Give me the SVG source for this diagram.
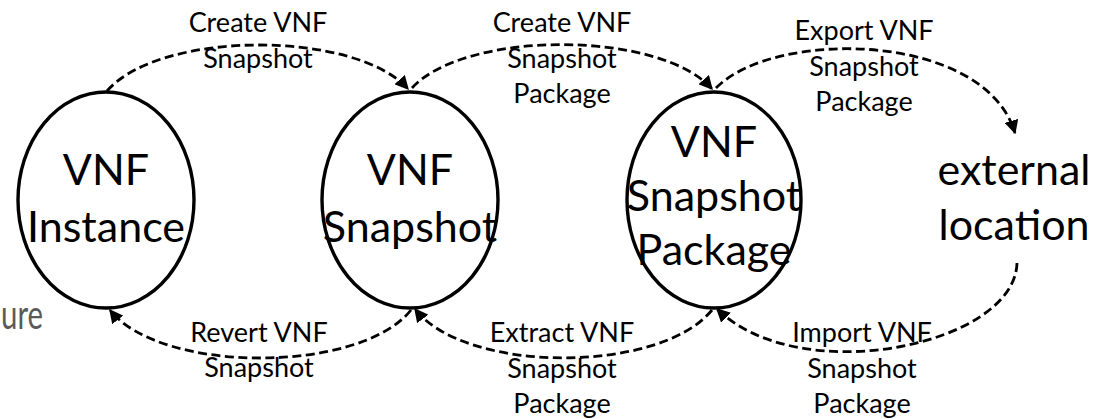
<svg xmlns="http://www.w3.org/2000/svg" width="1096" height="419" viewBox="0 0 1096 419">
<style>
.node{fill:none;stroke:#000;stroke-width:3.4}
.nt{font-family:Lato,"Open Sans","Liberation Sans",sans-serif;font-size:43px;fill:#000;text-anchor:middle}
.lb{font-family:Lato,"Open Sans","Liberation Sans",sans-serif;font-size:27px;fill:#000;text-anchor:middle}
.edge{fill:none;stroke:#000;stroke-width:2.8;stroke-dasharray:9 4.5;marker-end:url(#ah)}
</style>
<defs>
<marker id="ah" viewBox="0 0 10 10" refX="9" refY="5" markerWidth="5" markerHeight="5" orient="auto" markerUnits="strokeWidth">
<path d="M0,0 L10,5 L0,10 z" fill="#000"/>
</marker>
</defs>
<rect width="1096" height="419" fill="#fff"/>
<text x="1" y="329" font-family="Lato,'Open Sans','Liberation Sans',sans-serif" font-size="40" fill="#5a5a5a" textLength="42" lengthAdjust="spacingAndGlyphs">ure</text>
<g id="connectors">
<path class="edge" d="M107,91 C160,30 355,30 408,89"/>
<path class="edge" d="M412,88 C465,30 660,30 712,89"/>
<path class="edge" d="M716,88 C775,28 985,32 1015,133"/>
<path class="edge" d="M411,310 C360,374 160,374 110,310"/>
<path class="edge" d="M712,310 C660,374 465,374 415,309"/>
<path class="edge" d="M1017,263 C1015,345 800,390 717,309"/>
</g>
<g id="vnf-instance">
<ellipse class="node" cx="106" cy="200" rx="88" ry="108"/>
<text class="nt" x="106" y="185">VNF</text>
<text class="nt" x="106" y="242">Instance</text>
</g>
<g id="vnf-snapshot">
<ellipse class="node" cx="410" cy="200" rx="88" ry="108"/>
<text class="nt" x="410" y="185">VNF</text>
<text class="nt" x="410" y="242">Snapshot</text>
</g>
<g id="vnf-snapshot-package">
<ellipse class="node" cx="714" cy="200" rx="87" ry="108"/>
<text class="nt" x="714" y="157">VNF</text>
<text class="nt" x="714" y="211">Snapshot</text>
<text class="nt" x="714" y="265">Package</text>
</g>
<g id="external-location">
<text class="nt" x="1014" y="185">external</text>
<text class="nt" x="1014" y="240">location</text>
</g>
<g id="labels">
<text class="lb" x="258" y="32">Create VNF</text>
<text class="lb" x="258" y="68">Snapshot</text>
<text class="lb" x="562" y="32">Create VNF</text>
<text class="lb" x="562" y="68">Snapshot</text>
<text class="lb" x="562" y="103">Package</text>
<text class="lb" x="864" y="40">Export VNF</text>
<text class="lb" x="864" y="76">Snapshot</text>
<text class="lb" x="864" y="111">Package</text>
<text class="lb" x="259" y="342">Revert VNF</text>
<text class="lb" x="259" y="377">Snapshot</text>
<text class="lb" x="562" y="342">Extract VNF</text>
<text class="lb" x="562" y="378">Snapshot</text>
<text class="lb" x="562" y="413">Package</text>
<text class="lb" x="862" y="342">Import VNF</text>
<text class="lb" x="862" y="378">Snapshot</text>
<text class="lb" x="862" y="413">Package</text>
</g>
</svg>
